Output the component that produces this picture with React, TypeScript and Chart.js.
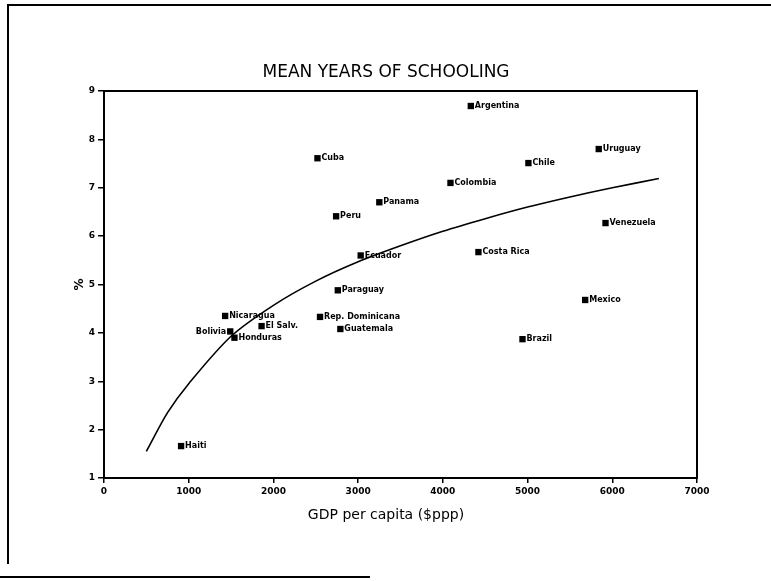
import { useEffect, useRef } from "react";
import { Chart, registerables } from "chart.js";

Chart.register(...registerables);

const COUNTRIES = [
  "Argentina", "Cuba", "Chile", "Uruguay", "Colombia", "Panama", "Peru",
  "Venezuela", "Costa Rica", "Ecuador", "Paraguay", "Mexico", "Nicaragua",
  "Rep. Dominicana", "El Salv.", "Guatemala", "Bolivia", "Honduras", "Brazil", "Haiti",
];
const GDP = [
  4330, 2520, 5010, 5840, 4090, 3250, 2740,
  5920, 4420, 3030, 2760, 5680, 1430,
  2550, 1860, 2790, 1490, 1540, 4940, 910,
];
const SCHOOLING = [
  8.69, 7.61, 7.51, 7.8, 7.1, 6.7, 6.41,
  6.27, 5.67, 5.6, 4.88, 4.68, 4.35,
  4.33, 4.14, 4.08, 4.03, 3.9, 3.87, 1.66,
];
const FIT_GDP = [500, 750, 1000, 1500, 2000, 2500, 3000, 3500, 4000, 4500, 5000, 5500, 6000, 6550];
const FIT_YEARS = [1.55, 2.35, 2.95, 3.93, 4.57, 5.07, 5.47, 5.8, 6.1, 6.36, 6.6, 6.81, 7.0, 7.19];
const X_TICKS = [0, 1000, 2000, 3000, 4000, 5000, 6000, 7000];
const Y_TICKS = [1, 2, 3, 4, 5, 6, 7, 8, 9];
const LEFT_LABELS = ["Bolivia"];

const TITLE = "MEAN YEARS OF SCHOOLING";
const X_TITLE = "GDP per capita ($ppp)";
const Y_TITLE = "%";

const decor = {
  id: "decor",
  afterDraw(chart: any) {
    const { ctx, chartArea: a } = chart;
    ctx.save();
    ctx.strokeStyle = "#000";
    ctx.lineWidth = 2;
    ctx.strokeRect(a.left, a.top, a.right - a.left, a.bottom - a.top);

    const meta = chart.getDatasetMeta(0);
    ctx.fillStyle = "#000";
    ctx.font = 'bold 8px "DejaVu Sans"';
    ctx.textBaseline = "middle";
    meta.data.forEach((pt: any, i: number) => {
      const name = COUNTRIES[i];
      if (LEFT_LABELS.includes(name)) {
        ctx.textAlign = "right";
        ctx.fillText(name, pt.x - 4, pt.y);
      } else {
        ctx.textAlign = "left";
        ctx.fillText(name, pt.x + 4, pt.y);
      }
    });

    const cx = a.left + 282;
    ctx.textAlign = "center";
    ctx.font = '17px "DejaVu Sans"';
    ctx.fillText(TITLE, cx, a.top - 18);
    ctx.font = '14px "DejaVu Sans"';
    ctx.fillText(X_TITLE, cx, a.bottom + 37);

    ctx.save();
    ctx.translate(a.left - 24, (a.top + a.bottom) / 2);
    ctx.rotate(-Math.PI / 2);
    ctx.font = 'bold 12px "DejaVu Sans"';
    ctx.fillText(Y_TITLE, 0, 0);
    ctx.restore();
    ctx.restore();
  },
};

export default function App() {
  const ref = useRef<HTMLCanvasElement>(null);
  useEffect(() => {
    if (!ref.current) return;
    const chart = new Chart(ref.current, {
      type: "scatter",
      data: {
        datasets: [
          {
            label: "Countries",
            data: GDP.map((g, i) => ({ x: g, y: SCHOOLING[i] })),
            pointStyle: "rect",
            pointRadius: 4.5,
            backgroundColor: "#000",
            borderWidth: 0,
          },
          {
            type: "line",
            label: "Fit",
            data: FIT_GDP.map((g, i) => ({ x: g, y: FIT_YEARS[i] })),
            borderColor: "#000",
            borderWidth: 1.6,
            pointRadius: 0,
            tension: 0.3,
            fill: false,
          } as any,
        ],
      },
      options: {
        animation: false,
        responsive: false,
        layout: { padding: { top: 91, right: 74, left: 0, bottom: 0 } },
        plugins: { legend: { display: false }, tooltip: { enabled: false }, title: { display: false } },
        scales: {
          x: {
            type: "linear",
            min: 0,
            max: 7000,
            afterFit: (s: any) => { s.height = 103; },
            afterBuildTicks: (s: any) => { s.ticks = X_TICKS.map((v) => ({ value: v })); },
            grid: { display: true, drawOnChartArea: false, drawTicks: true, tickLength: 5, color: "#000", lineWidth: 1.5 },
            border: { display: true, color: "#000", width: 2 },
            ticks: {
              color: "#000",
              font: { family: "DejaVu Sans", size: 9, weight: "bold" },
              padding: 3,
              maxRotation: 0,
              callback: (v: any) => String(v),
            },
          },
          y: {
            type: "linear",
            min: 1,
            max: 9,
            afterFit: (s: any) => { s.width = 104; },
            afterBuildTicks: (s: any) => { s.ticks = Y_TICKS.map((v) => ({ value: v })); },
            grid: { display: true, drawOnChartArea: false, drawTicks: true, tickLength: 6, color: "#000", lineWidth: 1.5 },
            border: { display: true, color: "#000", width: 2 },
            ticks: { color: "#000", font: { family: "DejaVu Sans", size: 9, weight: "bold" }, padding: 3 },
          },
        },
      },
      plugins: [decor],
    });
    return () => chart.destroy();
  }, []);

  return (
    <div style={{ position: "absolute", left: 0, top: 0, width: 771, height: 581, background: "#fff", overflow: "hidden" }}>
      <canvas ref={ref} width={771} height={581} style={{ position: "absolute", left: 0, top: 0 }} />
      <div style={{ position: "absolute", left: 7, top: 4, width: 764, height: 2, background: "#000" }} />
      <div style={{ position: "absolute", left: 7, top: 4, width: 2, height: 560, background: "#000" }} />
      <div style={{ position: "absolute", left: 0, top: 576, width: 370, height: 2, background: "#000" }} />
    </div>
  );
}
